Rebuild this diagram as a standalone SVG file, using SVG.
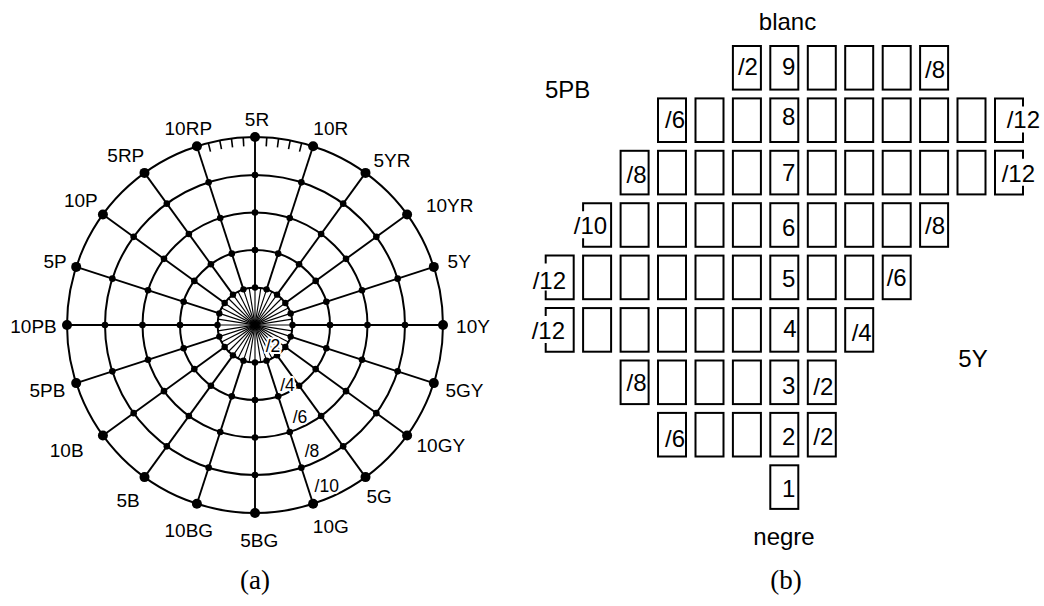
<svg xmlns="http://www.w3.org/2000/svg" width="1044" height="606" viewBox="0 0 1044 606">
<style>
.ring{fill:none;stroke:#000;stroke-width:2}
.sp{stroke:#000;stroke-width:1.9;fill:none}
.cs{stroke:#000;stroke-width:1.15;fill:none}
.tk{stroke:#000;stroke-width:1.6}
.d{fill:#000}
.hue{font-family:"Liberation Sans",Arial,sans-serif;font-size:19px;text-anchor:middle;fill:#000}
.chr{font-family:"Liberation Sans",Arial,sans-serif;font-size:17.5px;text-anchor:middle;fill:#000;stroke:#fff;stroke-width:4;paint-order:stroke;stroke-linejoin:round}
.box{fill:none;stroke:#000;stroke-width:2}
.bt{font-family:"Liberation Sans",Arial,sans-serif;font-size:24px;text-anchor:end;fill:#000}
.bs{font-family:"Liberation Sans",Arial,sans-serif;font-size:24px;text-anchor:start;fill:#000}
.bm{font-family:"Liberation Sans",Arial,sans-serif;font-size:24px;text-anchor:middle;fill:#000}
.cap{font-family:"Liberation Serif","Times New Roman",serif;font-size:27px;text-anchor:middle;fill:#000}
</style>
<rect width="1044" height="606" fill="#fff"/>

<g id="panel-a">
<g id="rings">
<circle class="ring" cx="255" cy="325" r="37.5"/>
<circle class="ring" cx="255" cy="325" r="75"/>
<circle class="ring" cx="255" cy="325" r="112.5"/>
<circle class="ring" cx="255" cy="325" r="150"/>
<circle class="ring" cx="255" cy="325" r="188"/>
</g>
<g id="connectors">
<g id="center-spokes">
<line class="cs" x1="255" y1="287.5" x2="255" y2="362.5"/>
<line class="cs" x1="266.59" y1="289.34" x2="243.41" y2="360.66"/>
<line class="cs" x1="277.04" y1="294.66" x2="232.96" y2="355.34"/>
<line class="cs" x1="285.34" y1="302.96" x2="224.66" y2="347.04"/>
<line class="cs" x1="290.66" y1="313.41" x2="219.34" y2="336.59"/>
<line class="cs" x1="292.5" y1="325" x2="217.5" y2="325"/>
<line class="cs" x1="290.66" y1="336.59" x2="219.34" y2="313.41"/>
<line class="cs" x1="285.34" y1="347.04" x2="224.66" y2="302.96"/>
<line class="cs" x1="277.04" y1="355.34" x2="232.96" y2="294.66"/>
<line class="cs" x1="266.59" y1="360.66" x2="243.41" y2="289.34"/>
<line class="cs" x1="260.87" y1="287.96" x2="249.13" y2="362.04"/>
<line class="cs" x1="272.02" y1="291.59" x2="237.98" y2="358.41"/>
<line class="cs" x1="281.52" y1="298.48" x2="228.48" y2="351.52"/>
<line class="cs" x1="288.41" y1="307.98" x2="221.59" y2="342.02"/>
<line class="cs" x1="292.04" y1="319.13" x2="217.96" y2="330.87"/>
<line class="cs" x1="292.04" y1="330.87" x2="217.96" y2="319.13"/>
<line class="cs" x1="288.41" y1="342.02" x2="221.59" y2="307.98"/>
<line class="cs" x1="281.52" y1="351.52" x2="228.48" y2="298.48"/>
<line class="cs" x1="272.02" y1="358.41" x2="237.98" y2="291.59"/>
<line class="cs" x1="260.87" y1="362.04" x2="249.13" y2="287.96"/>
</g>
<g id="hue-spokes">
<line class="sp" x1="255" y1="287.5" x2="255" y2="137"/>
<line class="sp" x1="266.59" y1="289.34" x2="313.10" y2="146.20"/>
<line class="sp" x1="277.04" y1="294.66" x2="365.50" y2="172.90"/>
<line class="sp" x1="285.34" y1="302.96" x2="407.10" y2="214.50"/>
<line class="sp" x1="290.66" y1="313.41" x2="433.80" y2="266.90"/>
<line class="sp" x1="292.5" y1="325" x2="443" y2="325"/>
<line class="sp" x1="290.66" y1="336.59" x2="433.80" y2="383.10"/>
<line class="sp" x1="285.34" y1="347.04" x2="407.10" y2="435.50"/>
<line class="sp" x1="277.04" y1="355.34" x2="365.50" y2="477.10"/>
<line class="sp" x1="266.59" y1="360.66" x2="313.10" y2="503.80"/>
<line class="sp" x1="255" y1="362.5" x2="255" y2="513"/>
<line class="sp" x1="243.41" y1="360.66" x2="196.90" y2="503.80"/>
<line class="sp" x1="232.96" y1="355.34" x2="144.50" y2="477.10"/>
<line class="sp" x1="224.66" y1="347.04" x2="102.90" y2="435.50"/>
<line class="sp" x1="219.34" y1="336.59" x2="76.20" y2="383.10"/>
<line class="sp" x1="217.5" y1="325" x2="67" y2="325"/>
<line class="sp" x1="219.34" y1="313.41" x2="76.20" y2="266.90"/>
<line class="sp" x1="224.66" y1="302.96" x2="102.90" y2="214.50"/>
<line class="sp" x1="232.96" y1="294.66" x2="144.50" y2="172.90"/>
<line class="sp" x1="243.41" y1="289.34" x2="196.90" y2="146.20"/>
</g>
</g>
<g id="ticks">
<line class="tk" x1="266.80" y1="137.37" x2="266.24" y2="146.35"/>
<line class="tk" x1="278.56" y1="138.48" x2="277.43" y2="147.41"/>
<line class="tk" x1="290.23" y1="140.33" x2="288.54" y2="149.17"/>
<line class="tk" x1="301.75" y1="142.91" x2="299.52" y2="151.62"/>
<line class="tk" x1="243.20" y1="137.37" x2="243.76" y2="146.35"/>
<line class="tk" x1="231.44" y1="138.48" x2="232.57" y2="147.41"/>
<line class="tk" x1="219.77" y1="140.33" x2="221.46" y2="149.17"/>
<line class="tk" x1="208.25" y1="142.91" x2="210.48" y2="151.62"/>
</g>
<g id="dots-inner" class="d">
<circle cx="255" cy="287.5" r="3.2"/><circle cx="266.59" cy="289.34" r="3.2"/><circle cx="277.04" cy="294.66" r="3.2"/><circle cx="285.34" cy="302.96" r="3.2"/><circle cx="290.66" cy="313.41" r="3.2"/>
<circle cx="292.5" cy="325" r="3.2"/><circle cx="290.66" cy="336.59" r="3.2"/><circle cx="285.34" cy="347.04" r="3.2"/><circle cx="277.04" cy="355.34" r="3.2"/><circle cx="266.59" cy="360.66" r="3.2"/>
<circle cx="255" cy="362.5" r="3.2"/><circle cx="243.41" cy="360.66" r="3.2"/><circle cx="232.96" cy="355.34" r="3.2"/><circle cx="224.66" cy="347.04" r="3.2"/><circle cx="219.34" cy="336.59" r="3.2"/>
<circle cx="217.5" cy="325" r="3.2"/><circle cx="219.34" cy="313.41" r="3.2"/><circle cx="224.66" cy="302.96" r="3.2"/><circle cx="232.96" cy="294.66" r="3.2"/><circle cx="243.41" cy="289.34" r="3.2"/>

<circle cx="255" cy="250" r="3.3"/><circle cx="278.18" cy="253.67" r="3.3"/><circle cx="299.08" cy="264.32" r="3.3"/><circle cx="315.68" cy="280.92" r="3.3"/><circle cx="326.33" cy="301.82" r="3.3"/>
<circle cx="330" cy="325" r="3.3"/><circle cx="326.33" cy="348.18" r="3.3"/><circle cx="315.68" cy="369.08" r="3.3"/><circle cx="299.08" cy="385.68" r="3.3"/><circle cx="278.18" cy="396.33" r="3.3"/>
<circle cx="255" cy="400" r="3.3"/><circle cx="231.82" cy="396.33" r="3.3"/><circle cx="210.92" cy="385.68" r="3.3"/><circle cx="194.32" cy="369.08" r="3.3"/><circle cx="183.67" cy="348.18" r="3.3"/>
<circle cx="180" cy="325" r="3.3"/><circle cx="183.67" cy="301.82" r="3.3"/><circle cx="194.32" cy="280.92" r="3.3"/><circle cx="210.92" cy="264.32" r="3.3"/><circle cx="231.82" cy="253.67" r="3.3"/>

<circle cx="255" cy="212.5" r="3.3"/><circle cx="289.76" cy="218.01" r="3.3"/><circle cx="321.13" cy="233.99" r="3.3"/><circle cx="346.01" cy="258.87" r="3.3"/><circle cx="361.99" cy="290.24" r="3.3"/>
<circle cx="367.5" cy="325" r="3.3"/><circle cx="361.99" cy="359.76" r="3.3"/><circle cx="346.01" cy="391.13" r="3.3"/><circle cx="321.13" cy="416.01" r="3.3"/><circle cx="289.76" cy="431.99" r="3.3"/>
<circle cx="255" cy="437.5" r="3.3"/><circle cx="220.24" cy="431.99" r="3.3"/><circle cx="188.87" cy="416.01" r="3.3"/><circle cx="163.99" cy="391.13" r="3.3"/><circle cx="148.01" cy="359.76" r="3.3"/>
<circle cx="142.5" cy="325" r="3.3"/><circle cx="148.01" cy="290.24" r="3.3"/><circle cx="163.99" cy="258.87" r="3.3"/><circle cx="188.87" cy="233.99" r="3.3"/><circle cx="220.24" cy="218.01" r="3.3"/>

<circle cx="255" cy="175" r="3.3"/><circle cx="301.35" cy="182.34" r="3.3"/><circle cx="343.17" cy="203.65" r="3.3"/><circle cx="376.35" cy="236.83" r="3.3"/><circle cx="397.66" cy="278.65" r="3.3"/>
<circle cx="405" cy="325" r="3.3"/><circle cx="397.66" cy="371.35" r="3.3"/><circle cx="376.35" cy="413.17" r="3.3"/><circle cx="343.17" cy="446.35" r="3.3"/><circle cx="301.35" cy="467.66" r="3.3"/>
<circle cx="255" cy="475" r="3.3"/><circle cx="208.65" cy="467.66" r="3.3"/><circle cx="166.83" cy="446.35" r="3.3"/><circle cx="133.65" cy="413.17" r="3.3"/><circle cx="112.34" cy="371.35" r="3.3"/>
<circle cx="105" cy="325" r="3.3"/><circle cx="112.34" cy="278.65" r="3.3"/><circle cx="133.65" cy="236.83" r="3.3"/><circle cx="166.83" cy="203.65" r="3.3"/><circle cx="208.65" cy="182.34" r="3.3"/>
</g>
<g id="dots-outer" class="d">
<circle cx="255" cy="137" r="5"/><circle cx="313.10" cy="146.20" r="5"/><circle cx="365.50" cy="172.90" r="5"/><circle cx="407.10" cy="214.50" r="5"/><circle cx="433.80" cy="266.90" r="5"/>
<circle cx="443" cy="325" r="5"/><circle cx="433.80" cy="383.10" r="5"/><circle cx="407.10" cy="435.50" r="5"/><circle cx="365.50" cy="477.10" r="5"/><circle cx="313.10" cy="503.80" r="5"/>
<circle cx="255" cy="513" r="5"/><circle cx="196.90" cy="503.80" r="5"/><circle cx="144.50" cy="477.10" r="5"/><circle cx="102.90" cy="435.50" r="5"/><circle cx="76.20" cy="383.10" r="5"/>
<circle cx="67" cy="325" r="5"/><circle cx="76.20" cy="266.90" r="5"/><circle cx="102.90" cy="214.50" r="5"/><circle cx="144.50" cy="172.90" r="5"/><circle cx="196.90" cy="146.20" r="5"/>
</g>
<g id="hue-labels">
<text class="hue" x="257" y="126">5R</text>
<text class="hue" x="330.8" y="135">10R</text>
<text class="hue" x="392" y="166.7">5YR</text>
<text class="hue" x="449.7" y="211.7">10YR</text>
<text class="hue" x="459.2" y="268.3">5Y</text>
<text class="hue" x="473" y="333">10Y</text>
<text class="hue" x="464.5" y="396.7">5GY</text>
<text class="hue" x="440.8" y="451.7">10GY</text>
<text class="hue" x="379.2" y="503.3">5G</text>
<text class="hue" x="330.8" y="533.3">10G</text>
<text class="hue" x="259.2" y="546.7">5BG</text>
<text class="hue" x="188.8" y="536.7">10BG</text>
<text class="hue" x="128" y="506.7">5B</text>
<text class="hue" x="66.7" y="456.7">10B</text>
<text class="hue" x="47.5" y="396.7">5PB</text>
<text class="hue" x="33.5" y="333">10PB</text>
<text class="hue" x="55" y="268.3">5P</text>
<text class="hue" x="80.8" y="206.7">10P</text>
<text class="hue" x="125.8" y="161.7">5RP</text>
<text class="hue" x="188.3" y="135">10RP</text>
</g>
<g id="chroma-labels">
<text class="chr" x="273" y="352">/2</text>
<text class="chr" x="287.5" y="390.7">/4</text>
<text class="chr" x="300" y="422.7">/6</text>
<text class="chr" x="312" y="457.3">/8</text>
<text class="chr" x="326.7" y="491.7">/10</text>
</g>
<text class="cap" x="255" y="589">(a)</text>
</g>

<g id="panel-b">
<text class="bm" x="787.5" y="29.5">blanc</text>
<text class="bs" x="545" y="98.3">5PB</text>
<text class="bs" x="958.3" y="366.7">5Y</text>
<text class="bm" x="784" y="545">negre</text>
<text class="cap" x="786" y="589">(b)</text>

<g id="v9c5"><rect class="box" x="732.9" y="46" width="28" height="43.6"/><text class="bt" x="757.9" y="75">/2</text></g>
<g id="v9c6"><rect class="box" x="770.3" y="46" width="28" height="43.6"/><text class="bt" x="795.3" y="75">9</text></g>
<g id="v9c7"><rect class="box" x="807.8" y="46" width="28" height="43.6"/></g>
<g id="v9c8"><rect class="box" x="845.2" y="46" width="28" height="43.6"/></g>
<g id="v9c9"><rect class="box" x="882.7" y="46" width="28" height="43.6"/></g>
<g id="v9c10"><rect class="box" x="920.1" y="46" width="28" height="43.6"/><text class="bt" x="945.1" y="78">/8</text></g>

<g id="v8c3"><rect class="box" x="658" y="98.4" width="28" height="43.6"/><text class="bt" x="685" y="128.4">/6</text></g>
<g id="v8c4"><rect class="box" x="695.5" y="98.4" width="28" height="43.6"/></g>
<g id="v8c5"><rect class="box" x="732.9" y="98.4" width="28" height="43.6"/></g>
<g id="v8c6"><rect class="box" x="770.3" y="98.4" width="28" height="43.6"/><text class="bt" x="795.3" y="124.5">8</text></g>
<g id="v8c7"><rect class="box" x="807.8" y="98.4" width="28" height="43.6"/></g>
<g id="v8c8"><rect class="box" x="845.2" y="98.4" width="28" height="43.6"/></g>
<g id="v8c9"><rect class="box" x="882.7" y="98.4" width="28" height="43.6"/></g>
<g id="v8c10"><rect class="box" x="920.1" y="98.4" width="28" height="43.6"/></g>
<g id="v8c11"><rect class="box" x="957.5" y="98.4" width="28" height="43.6"/></g>
<g id="v8c12"><path class="box" d="M1023,106.4 V98.4 H995 V142 H1023 V132.4"/><text class="bs" x="1006.7" y="128.4">/12</text></g>

<g id="v7c2"><rect class="box" x="620.6" y="150.8" width="28" height="43.6"/><text class="bt" x="646.6" y="183">/8</text></g>
<g id="v7c3"><rect class="box" x="658" y="150.8" width="28" height="43.6"/></g>
<g id="v7c4"><rect class="box" x="695.5" y="150.8" width="28" height="43.6"/></g>
<g id="v7c5"><rect class="box" x="732.9" y="150.8" width="28" height="43.6"/></g>
<g id="v7c6"><rect class="box" x="770.3" y="150.8" width="28" height="43.6"/><text class="bt" x="795.3" y="180.5">7</text></g>
<g id="v7c7"><rect class="box" x="807.8" y="150.8" width="28" height="43.6"/></g>
<g id="v7c8"><rect class="box" x="845.2" y="150.8" width="28" height="43.6"/></g>
<g id="v7c9"><rect class="box" x="882.7" y="150.8" width="28" height="43.6"/></g>
<g id="v7c10"><rect class="box" x="920.1" y="150.8" width="28" height="43.6"/></g>
<g id="v7c11"><rect class="box" x="957.5" y="150.8" width="28" height="43.6"/></g>
<g id="v7c12"><path class="box" d="M1023,158.8 V150.8 H995 V194.4 H1023 V185.8"/><text class="bs" x="1001.7" y="181.7">/12</text></g>

<g id="v6c1"><path class="box" d="M583.1,211.2 V203.2 H611.1 V246.8 H583.1 V238.2"/><text class="bt" x="607.1" y="233.5">/10</text></g>
<g id="v6c2"><rect class="box" x="620.6" y="203.2" width="28" height="43.6"/></g>
<g id="v6c3"><rect class="box" x="658" y="203.2" width="28" height="43.6"/></g>
<g id="v6c4"><rect class="box" x="695.5" y="203.2" width="28" height="43.6"/></g>
<g id="v6c5"><rect class="box" x="732.9" y="203.2" width="28" height="43.6"/></g>
<g id="v6c6"><rect class="box" x="770.3" y="203.2" width="28" height="43.6"/><text class="bt" x="795.3" y="236">6</text></g>
<g id="v6c7"><rect class="box" x="807.8" y="203.2" width="28" height="43.6"/></g>
<g id="v6c8"><rect class="box" x="845.2" y="203.2" width="28" height="43.6"/></g>
<g id="v6c9"><rect class="box" x="882.7" y="203.2" width="28" height="43.6"/></g>
<g id="v6c10"><rect class="box" x="920.1" y="203.2" width="28" height="43.6"/><text class="bt" x="945.1" y="233.5">/8</text></g>

<g id="v5c0"><path class="box" d="M545.7,263.6 V255.6 H573.7 V299.2 H545.7 V290.6"/><text class="bt" x="566" y="288.5">/12</text></g>
<g id="v5c1"><rect class="box" x="583.1" y="255.6" width="28" height="43.6"/></g>
<g id="v5c2"><rect class="box" x="620.6" y="255.6" width="28" height="43.6"/></g>
<g id="v5c3"><rect class="box" x="658" y="255.6" width="28" height="43.6"/></g>
<g id="v5c4"><rect class="box" x="695.5" y="255.6" width="28" height="43.6"/></g>
<g id="v5c5"><rect class="box" x="732.9" y="255.6" width="28" height="43.6"/></g>
<g id="v5c6"><rect class="box" x="770.3" y="255.6" width="28" height="43.6"/><text class="bt" x="795.3" y="287">5</text></g>
<g id="v5c7"><rect class="box" x="807.8" y="255.6" width="28" height="43.6"/></g>
<g id="v5c8"><rect class="box" x="845.2" y="255.6" width="28" height="43.6"/></g>
<g id="v5c9"><rect class="box" x="882.7" y="255.6" width="28" height="43.6"/><text class="bt" x="906.7" y="285.5">/6</text></g>

<g id="v4c0"><path class="box" d="M545.7,316.1 V308.1 H573.7 V351.7 H545.7 V343.1"/><text class="bt" x="565" y="338.5">/12</text></g>
<g id="v4c1"><rect class="box" x="583.1" y="308.1" width="28" height="43.6"/></g>
<g id="v4c2"><rect class="box" x="620.6" y="308.1" width="28" height="43.6"/></g>
<g id="v4c3"><rect class="box" x="658" y="308.1" width="28" height="43.6"/></g>
<g id="v4c4"><rect class="box" x="695.5" y="308.1" width="28" height="43.6"/></g>
<g id="v4c5"><rect class="box" x="732.9" y="308.1" width="28" height="43.6"/></g>
<g id="v4c6"><rect class="box" x="770.3" y="308.1" width="28" height="43.6"/><text class="bt" x="796.5" y="336.5">4</text></g>
<g id="v4c7"><rect class="box" x="807.8" y="308.1" width="28" height="43.6"/></g>
<g id="v4c8"><rect class="box" x="845.2" y="308.1" width="28" height="43.6"/><text class="bt" x="871.7" y="341">/4</text></g>

<g id="v3c2"><rect class="box" x="620.6" y="360.5" width="28" height="43.6"/><text class="bt" x="646.6" y="390.5">/8</text></g>
<g id="v3c3"><rect class="box" x="658" y="360.5" width="28" height="43.6"/></g>
<g id="v3c4"><rect class="box" x="695.5" y="360.5" width="28" height="43.6"/></g>
<g id="v3c5"><rect class="box" x="732.9" y="360.5" width="28" height="43.6"/></g>
<g id="v3c6"><rect class="box" x="770.3" y="360.5" width="28" height="43.6"/><text class="bt" x="795.3" y="393.5">3</text></g>
<g id="v3c7"><rect class="box" x="807.8" y="360.5" width="28" height="43.6"/><text class="bt" x="833.3" y="395">/2</text></g>

<g id="v2c3"><rect class="box" x="658" y="412.9" width="28" height="43.6"/><text class="bt" x="685" y="446.5">/6</text></g>
<g id="v2c4"><rect class="box" x="695.5" y="412.9" width="28" height="43.6"/></g>
<g id="v2c5"><rect class="box" x="732.9" y="412.9" width="28" height="43.6"/></g>
<g id="v2c6"><rect class="box" x="770.3" y="412.9" width="28" height="43.6"/><text class="bt" x="795.3" y="445">2</text></g>
<g id="v2c7"><rect class="box" x="807.8" y="412.9" width="28" height="43.6"/><text class="bt" x="833.3" y="445">/2</text></g>

<g id="v1c6"><rect class="box" x="770.3" y="465.3" width="28" height="43.6"/><text class="bt" x="795.3" y="496.7">1</text></g>
</g>
</svg>
